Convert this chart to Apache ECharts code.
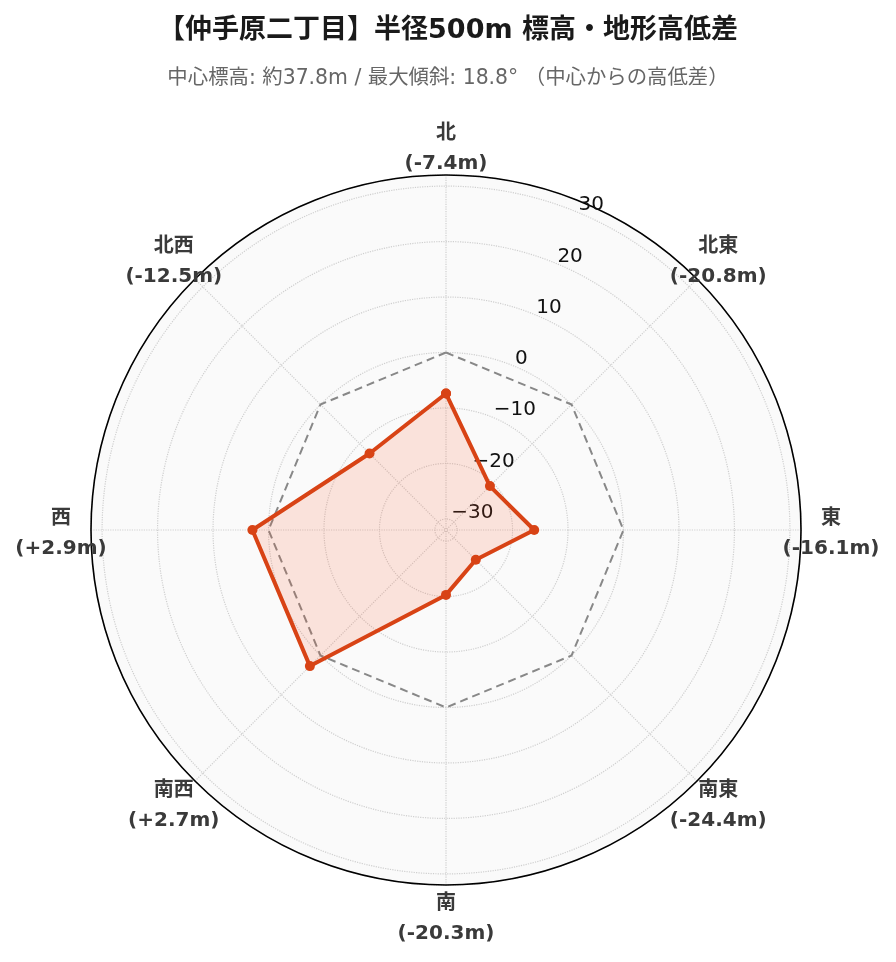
<!DOCTYPE html>
<html>
<head>
<meta charset="utf-8">
<script src="https://cdn.jsdelivr.net/npm/echarts@6/dist/echarts.min.js"></script>
<style>
html,body{margin:0;padding:0;background:#fff;}
#chart{width:896px;height:962px;}
</style>
</head>
<body>
<div id="chart"></div>
<script>
// ---- data ----
const directions = ['北', '北東', '東', '南東', '南', '南西', '西', '北西'];
const directionAngles = [0, 45, 90, 135, 180, 225, 270, 315];
const elevDiff = [-7.4, -20.8, -16.1, -24.4, -20.3, 2.7, 2.9, -12.5];
const zeroRef = [0, 0, 0, 0, 0, 0, 0, 0];
const radialTicks = [-30, -20, -10, 0, 10, 20, 30];
const radialMin = -32;
const radialMax = 32;
const titleText = '【仲手原二丁目】半径500m 標高・地形高低差';
const subText = '中心標高: 約37.8m / 最大傾斜: 18.8° （中心からの高低差）';

const FONT = '"DejaVu Sans", "Noto Sans CJK JP", sans-serif';
const CENTER = [446, 530];
const RADIUS = 355;

function closeLoop(vals) {
  const d = vals.map((v, i) => [v, directionAngles[i]]);
  d.push([vals[0], directionAngles[0] + 360]);
  return d;
}
function fmtDiff(v) {
  return '(' + (v > 0 ? '+' : '') + v.toFixed(1) + 'm)';
}

const chart = echarts.init(document.getElementById('chart'), null, {renderer: 'canvas'});
chart.setOption({
  animation: false,
  backgroundColor: '#ffffff',
  title: [
    {text: titleText, left: 'center', top: 12,
     textStyle: {fontFamily: FONT, fontSize: 27, fontWeight: 'bold', color: '#1a1a1a'}},
    {text: subText, left: 'center', top: 64,
     textStyle: {fontFamily: FONT, fontSize: 20.4, fontWeight: 'normal', color: '#666666'}}
  ],
  polar: [
    {center: CENTER, radius: RADIUS},
    {center: [447, 523], radius: RADIUS},
    {center: CENTER, radius: RADIUS + 30},
    {center: CENTER, radius: RADIUS}
  ],
  angleAxis: [
    {
      polarIndex: 0, z: 0,
      type: 'value', min: 0, max: 360, interval: 45,
      startAngle: 90, clockwise: true,
      axisLine: {show: false},
      axisTick: {show: false},
      axisLabel: {show: false},
      splitLine: {show: false},
      splitArea: {show: true, areaStyle: {color: ['#fafafa']}}
    },
    {
      polarIndex: 1,
      type: 'value', min: 0, max: 360, startAngle: 67.5, clockwise: true,
      show: false
    },
    {
      polarIndex: 2,
      type: 'value', min: 0, max: 360, startAngle: 90, clockwise: true,
      show: false
    },
    {
      polarIndex: 3, z: 2,
      type: 'value', min: 0, max: 360, interval: 45,
      startAngle: 90, clockwise: true,
      axisLine: {show: true, lineStyle: {color: '#000000', width: 1.6}},
      axisTick: {show: false},
      axisLabel: {show: false},
      splitLine: {show: true, lineStyle: {color: '#cfcfcf', type: 'dotted', width: 1.2}},
      splitArea: {show: false}
    }
  ],
  radiusAxis: [
    {
      polarIndex: 0, z: 1,
      type: 'value', min: radialMin, max: radialMax,
      axisLine: {show: false}, axisTick: {show: false}, axisLabel: {show: false},
      splitLine: {show: true, lineStyle: {color: '#cfcfcf', type: 'dotted', width: 1.2}}
    },
    {
      polarIndex: 1, z: 2,
      type: 'value', min: radialMin, max: radialMax,
      axisLine: {show: false}, axisTick: {show: false},
      splitLine: {show: false},
      axisLabel: {
        show: true, margin: 0, align: 'left', verticalAlign: 'middle',
        showMinLabel: false, showMaxLabel: false,
        fontFamily: FONT, fontSize: 20, color: '#111111',
        formatter: function (v) {
          if (radialTicks.indexOf(v) < 0) return '';
          return v < 0 ? '\u2212' + Math.abs(v) : String(v);
        }
      }
    },
    {
      polarIndex: 2,
      type: 'value', min: 0, max: 1, show: false
    },
    {
      polarIndex: 3,
      type: 'value', min: radialMin, max: radialMax, show: false
    }
  ],
  series: [
    {
      name: 'zero', type: 'line', coordinateSystem: 'polar', polarIndex: 0,
      data: closeLoop(zeroRef),
      showSymbol: false, symbol: 'none',
      lineStyle: {color: '#888888', width: 2, type: [8, 5]},
      z: 3
    },
    {
      name: '高低差', type: 'line', coordinateSystem: 'polar', polarIndex: 0,
      data: closeLoop(elevDiff),
      symbol: 'circle', symbolSize: 10, showSymbol: true,
      lineStyle: {color: '#D84315', width: 4},
      itemStyle: {color: '#D84315'},
      areaStyle: {color: 'rgba(255, 87, 34, 0.2)', origin: 'start'},
      z: 4
    },
    {
      name: 'dirLabels', type: 'scatter', coordinateSystem: 'polar', polarIndex: 2,
      data: directionAngles.map(a => [1, a]),
      symbolSize: 1, clip: false,
      itemStyle: {color: '#ffffff', opacity: 0},
      label: {
        show: true, position: 'inside', align: 'center', verticalAlign: 'middle',
        offset: [0, 4], opacity: 1,
        fontFamily: FONT, fontSize: 20, fontWeight: 'bold', color: '#3a3a3a', lineHeight: 30,
        formatter: function (p) {
          return directions[p.dataIndex] + '\n' + fmtDiff(elevDiff[p.dataIndex]);
        }
      },
      silent: true,
      z: 5
    }
  ]
});
</script>
</body>
</html>
